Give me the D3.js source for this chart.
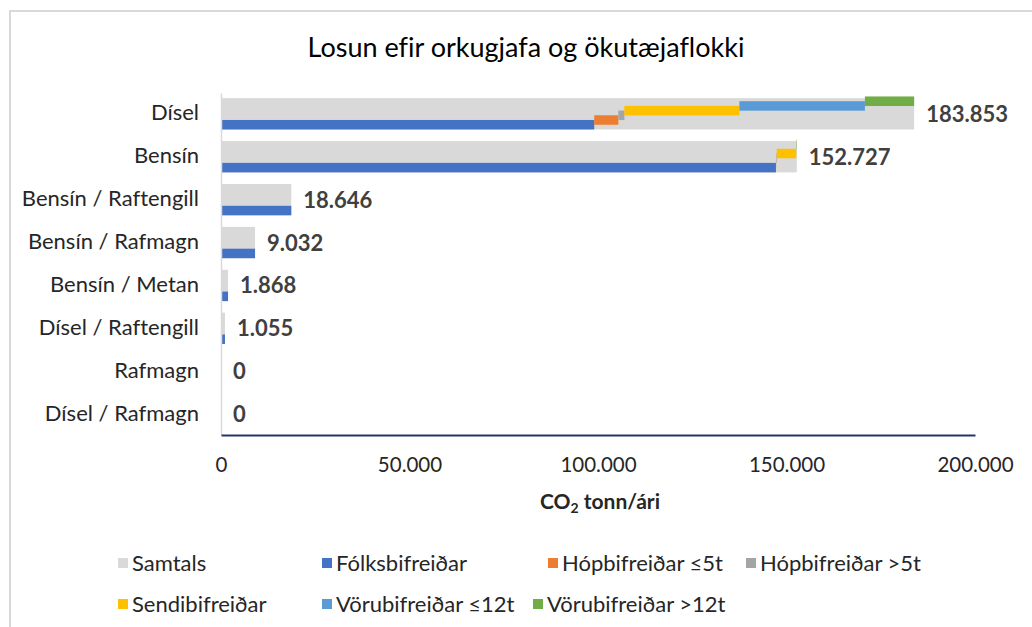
<!DOCTYPE html>
<html>
<head>
<meta charset="utf-8">
<script src="https://cdn.jsdelivr.net/npm/d3@7"></script>
<style>
  body { margin: 0; background: #fff; }
  text { font-family: Lato, "Open Sans", sans-serif; font-variant-ligatures: none; }
</style>
</head>
<body>
<div id="chart"></div>
<script>
var categories = ["Dísel", "Bensín", "Bensín / Raftengill", "Bensín / Rafmagn",
	"Bensín / Metan", "Dísel / Raftengill", "Rafmagn", "Dísel / Rafmagn"];
var totals = [183853, 152727, 18646, 9032, 1868, 1055, 0, 0];

var seriesNames = ["Fólksbifreiðar", "Hópbifreiðar ≤5t", "Hópbifreiðar >5t",
	"Sendibifreiðar", "Vörubifreiðar ≤12t", "Vörubifreiðar >12t"];
var seriesColors = ["#4472c4", "#ed7d31", "#a5a5a5", "#ffc000", "#5b9bd5", "#70ad47"];

// one array per vehicle type, same order as categories
var folks = [99000, 147200, 18646, 9032, 1868, 1055, 0, 0];
var hopSmall = [6400, 50, 0, 0, 0, 0, 0, 0];
var hopLarge = [1600, 150, 0, 0, 0, 0, 0, 0];
var sendi = [30500, 5200, 0, 0, 0, 0, 0, 0];
var voruSmall = [33300, 27, 0, 0, 0, 0, 0, 0];
var voruLarge = [13053, 100, 0, 0, 0, 0, 0, 0];
var seriesValues = [folks, hopSmall, hopLarge, sendi, voruSmall, voruLarge];

var xTicks = [0, 50000, 100000, 150000, 200000];

var svgWidth = 1032;
var svgHeight = 627;

var svg = d3.select("#chart")
	.append("svg")
	.attr("width", svgWidth)
	.attr("height", svgHeight);

// chart frame
svg.append("rect")
	.attr("x", 10).attr("y", 11)
	.attr("width", 1040).attr("height", 640)
	.attr("fill", "none")
	.attr("stroke", "#d9d9d9")
	.attr("stroke-width", 2);

svg.append("text")
	.attr("x", 526).attr("y", 57)
	.attr("text-anchor", "middle")
	.attr("font-size", 27)
	.attr("fill", "#000")
	.text("Losun efir orkugjafa og ökutæjaflokki");

var fmt = function(v) {
	return d3.format(",")(v).replace(/,/g, ".");
};

var x = d3.scaleLinear()
	.domain([0, 200000])
	.range([221, 975]);

var y = d3.scaleBand()
	.domain(categories)
	.range([93, 435])
	.paddingInner(0.27)
	.paddingOuter(0.12);

var barH = 9.5;
var step = 4.7;

// Samtals bars
svg.append("g").selectAll("rect")
	.data(categories)
	.enter()
	.append("rect")
	.attr("x", x(0))
	.attr("y", d => y(d))
	.attr("width", (d, i) => x(totals[i]) - x(0))
	.attr("height", y.bandwidth())
	.attr("fill", "#d9d9d9");

// staggered segments, one per vehicle type
seriesValues.forEach(function(vals, s) {
	svg.append("g").selectAll("rect")
		.data(categories)
		.enter()
		.append("rect")
		.attr("x", function(d, i) {
			var start = 0;
			for (var k = 0; k < s; k++) start += seriesValues[k][i];
			return x(start);
		})
		.attr("y", d => y(d) + y.bandwidth() - barH - s * step)
		.attr("width", (d, i) => x(vals[i]) - x(0))
		.attr("height", barH)
		.attr("fill", seriesColors[s]);
});

// value labels
svg.append("g").selectAll("text")
	.data(categories)
	.enter()
	.append("text")
	.attr("x", (d, i) => x(totals[i]) + 12)
	.attr("y", d => y(d) + y.bandwidth() / 2 + 8)
	.attr("font-size", 22)
	.attr("font-weight", "bold")
	.attr("fill", "#404040")
	.text((d, i) => fmt(totals[i]));

// category axis
var leftAxis = d3.axisLeft(y).tickSize(0).tickPadding(22);
var yAxis = svg.append("g")
	.attr("transform", "translate(221,0)")
	.call(leftAxis);
yAxis.select(".domain").attr("stroke", "#d9d9d9").attr("stroke-width", 1.5);
yAxis.selectAll("text")
	.attr("font-size", 22)
	.attr("fill", "#262626")
	.attr("dy", "0.3em");

// value axis
var bottomAxis = d3.axisBottom(x)
	.tickValues(xTicks)
	.tickSize(0)
	.tickPadding(22)
	.tickFormat(fmt);
var xAxis = svg.append("g")
	.attr("transform", "translate(0,435)")
	.call(bottomAxis);
xAxis.select(".domain").attr("stroke", "#1f3864").attr("stroke-width", 2);
xAxis.selectAll("text")
	.attr("font-size", 20.5)
	.attr("fill", "#262626");

var axisTitle = svg.append("text")
	.attr("x", 600).attr("y", 509)
	.attr("text-anchor", "middle")
	.attr("font-size", 21)
	.attr("font-weight", "bold")
	.attr("fill", "#262626");
axisTitle.append("tspan").text("CO");
axisTitle.append("tspan").attr("font-size", 14).attr("dy", 4).text("2");
axisTitle.append("tspan").attr("dy", -4).text(" tonn/ári");

// legend
var legendNames = ["Samtals"].concat(seriesNames);
var legendColors = ["#d9d9d9"].concat(seriesColors);
var legendX = [118, 322, 548, 746, 118, 322, 533];
var legendY = [563, 563, 563, 563, 604, 604, 604];

var legend = svg.append("g").selectAll("g")
	.data(legendNames)
	.enter()
	.append("g")
	.attr("transform", (d, i) => `translate(${legendX[i]},${legendY[i]})`);

legend.append("rect")
	.attr("x", 0).attr("y", -5)
	.attr("width", 10).attr("height", 10)
	.attr("fill", (d, i) => legendColors[i]);

legend.append("text")
	.attr("x", 14).attr("y", 8)
	.attr("font-size", 22)
	.attr("fill", "#262626")
	.text(d => d);
</script>
</body>
</html>
